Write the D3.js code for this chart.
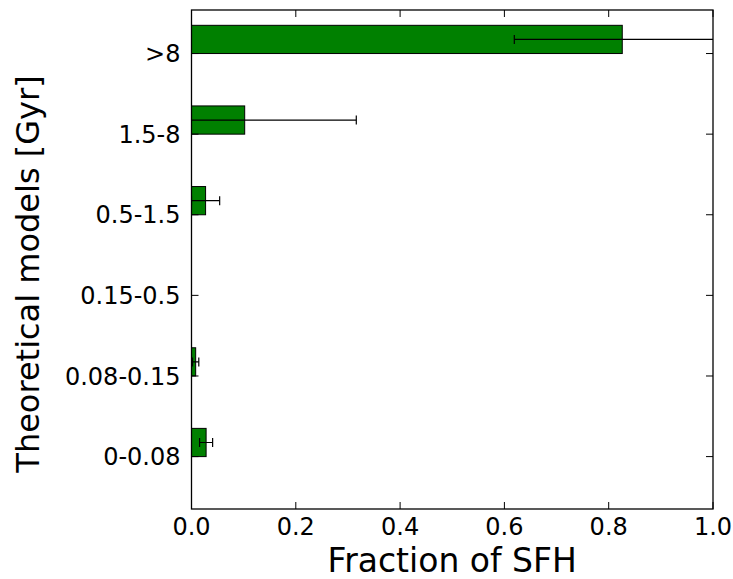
<!DOCTYPE html>
<html lang="en">
<head>
    <meta charset="UTF-8">
    <title>SFH fractions</title>
    <script src="https://d3js.org/d3.v7.min.js"></script>
    <style>
        body{ margin:0; background:#fff; }
        text{ font-family:"DejaVu Sans", sans-serif; fill:#000; }
    </style>
</head>
<body>
<svg id="main" width="733" height="579"></svg>

<script>
    // age bins (bottom to top) and fraction of SFH with errors
    let categories = ["0-0.08", "0.08-0.15", "0.15-0.5", "0.5-1.5", "1.5-8", ">8"]
    let fractions = [0.028, 0.008, 0.0, 0.027, 0.102, 0.826]
    let errors = [0.0125, 0.006, 0.0, 0.027, 0.214, 0.207]
    let xTicks = [0.0, 0.2, 0.4, 0.6, 0.8, 1.0]

    let mLeft = 191.5, mRight = 713, mTop = 10, mBottom = 509
    let barHeight = 0.35
    let tickLen = 7

    let svg = d3.select("#main")

    let x = d3.scaleLinear().domain([0, 1]).range([mLeft, mRight])
    let y = d3.scaleLinear().domain([-0.65, 5.54]).range([mBottom, mTop])

    svg.append("clipPath").attr("id", "plotclip")
        .append("rect")
        .attr("x", mLeft).attr("y", mTop)
        .attr("width", mRight - mLeft).attr("height", mBottom - mTop)

    let plot = svg.append("g").attr("clip-path", "url(#plotclip)")

    // bars
    plot.selectAll("rect.bar")
        .data(fractions)
        .join("rect")
        .attr("class", "bar")
        .attr("x", x(0))
        .attr("y", (d, i) => y(i + barHeight))
        .attr("width", d => x(d) - x(0))
        .attr("height", y(0) - y(barHeight))
        .attr("fill", "#008000")
        .attr("stroke", "#000")
        .attr("stroke-width", 1)

    // error bars
    let eb = plot.selectAll("g.err")
        .data(fractions.map((d, i) => ({v: d, e: errors[i], i: i})).filter(d => d.e > 0))
        .join("g")
        .attr("class", "err")
    eb.append("line")
        .attr("x1", d => x(d.v - d.e))
        .attr("x2", d => x(d.v + d.e))
        .attr("y1", d => y(d.i + barHeight / 2))
        .attr("y2", d => y(d.i + barHeight / 2))
        .attr("stroke", "#000").attr("stroke-width", 1.2)
    eb.selectAll("line.cap")
        .data(d => [d.v - d.e, d.v + d.e].map(v => ({v: v, i: d.i})))
        .join("line")
        .attr("class", "cap")
        .attr("x1", d => x(d.v)).attr("x2", d => x(d.v))
        .attr("y1", d => y(d.i + barHeight / 2) - 4.5)
        .attr("y2", d => y(d.i + barHeight / 2) + 4.5)
        .attr("stroke", "#000").attr("stroke-width", 1.2)

    // frame
    svg.append("rect")
        .attr("x", mLeft).attr("y", mTop)
        .attr("width", mRight - mLeft).attr("height", mBottom - mTop)
        .attr("fill", "none")
        .attr("stroke", "#000")
        .attr("stroke-width", 1.3)

    // x ticks (inside, bottom and top)
    let xt = svg.append("g")
    xTicks.forEach(function (t) {
        xt.append("line")
            .attr("x1", x(t)).attr("x2", x(t))
            .attr("y1", mBottom).attr("y2", mBottom - tickLen)
            .attr("stroke", "#000")
        xt.append("line")
            .attr("x1", x(t)).attr("x2", x(t))
            .attr("y1", mTop).attr("y2", mTop + tickLen)
            .attr("stroke", "#000")
        xt.append("text")
            .attr("x", x(t)).attr("y", 534.5)
            .attr("text-anchor", "middle")
            .attr("font-size", 24)
            .text(d3.format(".1f")(t))
    })

    // y ticks (inside, left and right)
    let yt = svg.append("g")
    categories.forEach(function (c, i) {
        yt.append("line")
            .attr("x1", mLeft).attr("x2", mLeft + tickLen)
            .attr("y1", y(i)).attr("y2", y(i))
            .attr("stroke", "#000")
        yt.append("line")
            .attr("x1", mRight).attr("x2", mRight - tickLen)
            .attr("y1", y(i)).attr("y2", y(i))
            .attr("stroke", "#000")
        yt.append("text")
            .attr("x", mLeft - 11).attr("y", y(i))
            .attr("dy", "0.36em")
            .attr("text-anchor", "end")
            .attr("font-size", 24)
            .text(c)
    })

    // axis labels
    svg.append("text")
        .attr("x", (mLeft + mRight) / 2).attr("y", 571.5)
        .attr("text-anchor", "middle")
        .attr("font-size", 33)
        .text("Fraction of SFH")

    svg.append("text")
        .attr("transform", "translate(39,274) rotate(-90)")
        .attr("text-anchor", "middle")
        .attr("font-size", 32)
        .text("Theoretical models [Gyr]")
</script>

</body>
</html>
